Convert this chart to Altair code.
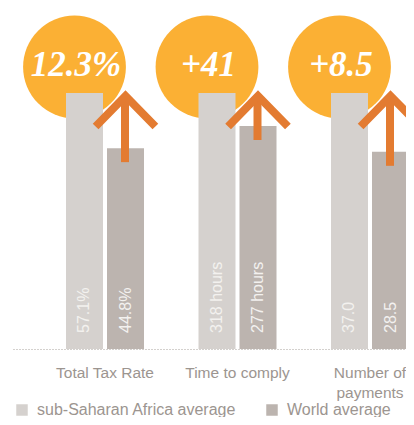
import altair as alt
import pandas as pd

categories = ["Total Tax Rate", "Time to comply", "Number of payments"]
series = ["sub-Saharan Africa average", "World average"]
ssa_values = [57.1, 318.0, 37.0]
world_values = [44.8, 277.0, 28.5]
ssa_labels = ["57.1%", "318 hours", "37.0"]
world_labels = ["44.8%", "277 hours", "28.5"]
differences = ["12.3%", "+41", "+8.5"]

LIGHT = "#D5D1CE"
DARK = "#BCB4AF"
CIRCLE = "#FBB034"
ARROW = "#E37B31"
GREY_TEXT = "#9C9590"
SANS = "Liberation Sans, Arial, sans-serif"

rows = []
for c, s, w, sl, wl in zip(categories, ssa_values, world_values, ssa_labels, world_labels):
    rows.append({"category": c, "series": series[0], "value": s, "label": sl, "norm": 1.0})
    rows.append({"category": c, "series": series[1], "value": w, "label": wl, "norm": w / s})
bars_df = pd.DataFrame(rows)

summary_df = pd.DataFrame({
    "category": categories,
    "diff": differences,
    "norm": [1.0] * len(categories),
    "world": [w / s for s, w in zip(ssa_values, world_values)],
})

x_scale = alt.Scale(domain=categories, range=[5, 454], paddingInner=0,
                    paddingOuter=0.19434, round=False)
x_axis = alt.Axis(title=None, ticks=False, tickSize=0, domain=True,
                  domainDash=[1, 2], domainColor="#A9A29D", domainWidth=1,
                  labelAngle=0, labelFontSize=15.5, labelFont=SANS,
                  labelColor=GREY_TEXT, labelPadding=16, labelBaseline="top",
                  labelLimit=200, labelLineHeight=20, grid=False,
                  labelExpr="datum.value == 'Number of payments' ? ['Number of', 'payments'] : datum.label")
x_enc = alt.X("category:N", sort=categories, scale=x_scale, axis=x_axis)
y_scale = alt.Scale(domain=[0, 1.332], nice=False, zero=True)

xoff = alt.XOffset("series:N", sort=series,
                   scale=alt.Scale(domain=series, paddingInner=4 / 41,
                                   paddingOuter=0.6646, round=False))

circles = alt.Chart(summary_df).mark_circle(
    size=10568, color=CIRCLE, opacity=1, xOffset=-30.5, yOffset=-26
).encode(x=x_enc, y=alt.Y("norm:Q", scale=y_scale, axis=None))

bars = alt.Chart(bars_df).mark_bar(opacity=1).encode(
    x=x_enc,
    xOffset=xoff,
    y=alt.Y("norm:Q", scale=y_scale, axis=None),
    color=alt.Color(
        "series:N",
        scale=alt.Scale(domain=series, range=[LIGHT, DARK]),
        legend=alt.Legend(orient="none", legendX=6, legendY=394,
                          direction="horizontal", title=None,
                          symbolType="square", symbolSize=132,
                          symbolStrokeWidth=0, symbolOpacity=1,
                          labelFontSize=16, labelFont=SANS,
                          labelColor=GREY_TEXT, labelLimit=300,
                          columnPadding=27, labelOffset=7, padding=0),
    ),
)

bar_labels = alt.Chart(bars_df).mark_text(
    angle=270, align="left", baseline="middle", yOffset=-16,
    fontSize=16, font=SANS, color="#F3F1EF"
).encode(
    x=x_enc, xOffset=xoff,
    y=alt.Y(datum=0, scale=y_scale, axis=None),
    text="label:N",
)

circle_text = alt.Chart(summary_df).mark_text(
    font="Liberation Serif", fontSize=35, fontWeight="bold", fontStyle="italic",
    color="white", baseline="middle", align="center", xOffset=-29, yOffset=-28
).encode(x=x_enc, y=alt.Y("norm:Q", scale=y_scale, axis=None), text="diff:N")

shaft = alt.Chart(summary_df).mark_rule(
    color=ARROW, strokeWidth=8, xOffset=20, yOffset=14, y2Offset=4
).encode(
    x=x_enc,
    y=alt.Y("world:Q", scale=y_scale, axis=None),
    y2="norm:Q",
)

head = alt.Chart(summary_df).mark_point(
    shape="M -0.98 1 L 0 0 L 0.98 1", size=3721, filled=False,
    stroke=ARROW, strokeWidth=8, strokeJoin="miter", strokeCap="butt",
    strokeMiterLimit=10, opacity=1, xOffset=20.5, yOffset=3
).encode(x=x_enc, y=alt.Y("norm:Q", scale=y_scale, axis=None))

chart = alt.layer(circles, bars, bar_labels, circle_text, shaft, head).properties(
    width=398, height=341, background="white",
    autosize=alt.AutoSizeParams(type="none"),
    padding={"left": 0, "top": 0, "right": 0, "bottom": 68},
).configure_view(strokeWidth=0, stroke=None)

chart.save("out.html", embed_options={"renderer": "svg", "actions": False})
